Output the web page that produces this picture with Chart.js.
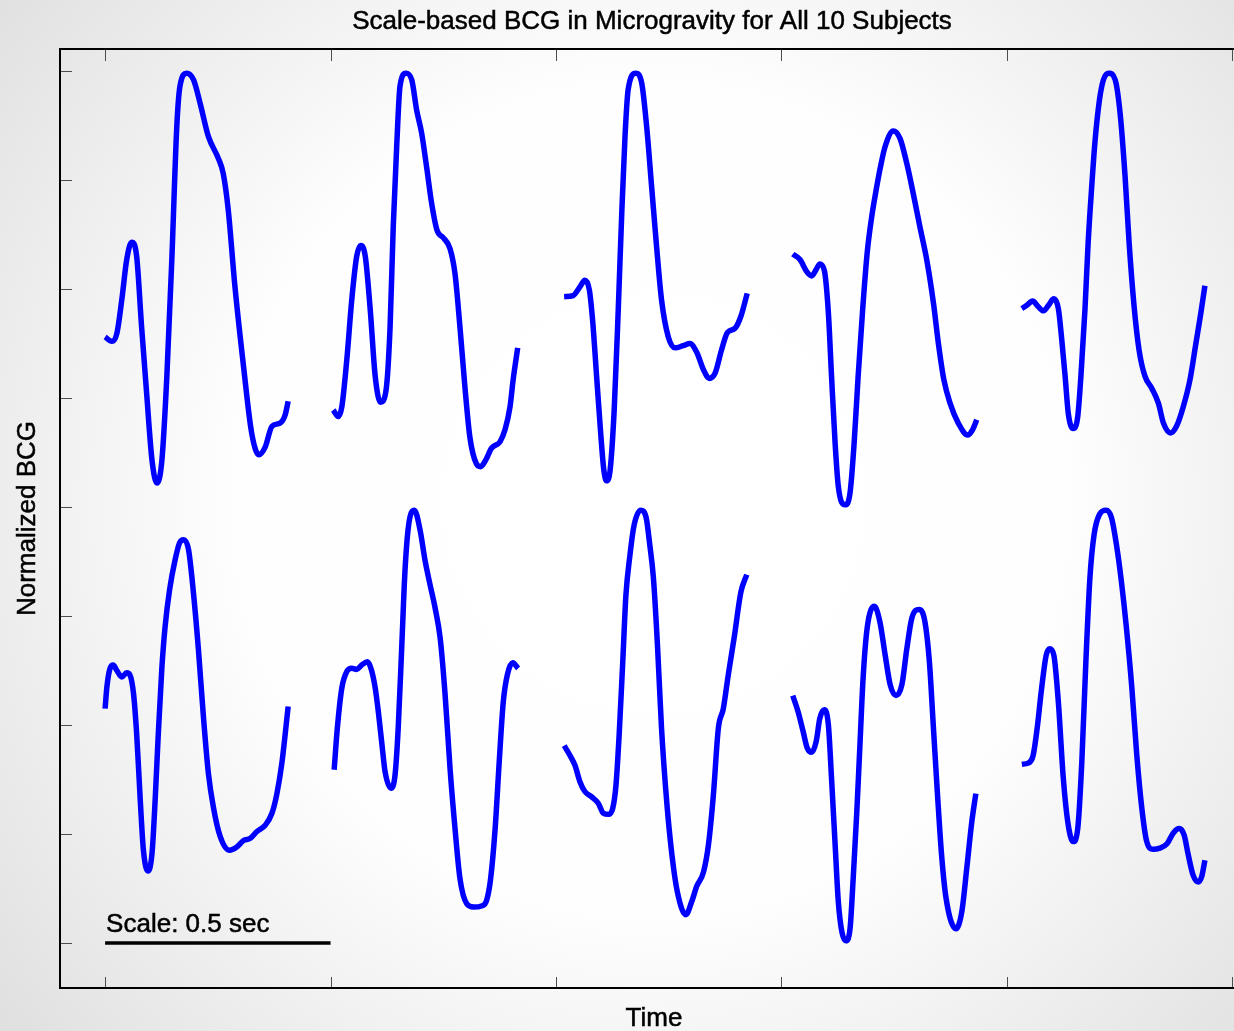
<!DOCTYPE html>
<html>
<head>
<meta charset="utf-8">
<title>Scale-based BCG in Microgravity</title>
<script src="https://cdn.jsdelivr.net/npm/chart.js@4.4.0/dist/chart.umd.min.js"></script>
<style>
html, body { margin: 0; padding: 0; background: #fff; overflow: hidden; width: 1234px; height: 1031px; }
#chart { display: block; }
</style>
</head>
<body>
<!-- the MATLAB axes box runs a little past the right edge of the picture -->
<canvas id="chart" width="1250" height="1031"></canvas>
<script>
// Time in seconds, BCG in normalized units (one y tick = 1 unit, unlabeled)

// Top row, subjects 1-5
const s1Time = [0, 0.015, 0.026, 0.037, 0.048, 0.059, 0.070, 0.081, 0.092, 0.104, 0.115, 0.126, 0.137, 0.148, 0.159, 0.166, 0.181, 0.196, 0.211, 0.229, 0.251, 0.262, 0.273, 0.288, 0.307, 0.325, 0.341, 0.355, 0.370, 0.388, 0.399, 0.406];
const s1Bcg = [5.56, 5.52, 5.59, 5.90, 6.27, 6.43, 6.30, 5.65, 5.05, 4.43, 4.22, 4.43, 5.20, 6.27, 7.49, 7.86, 7.98, 7.92, 7.70, 7.40, 7.20, 7.06, 6.73, 6.02, 5.29, 4.68, 4.48, 4.55, 4.74, 4.77, 4.84, 4.97];

const s2Time = [0.506, 0.517, 0.525, 0.536, 0.547, 0.558, 0.567, 0.577, 0.588, 0.599, 0.611, 0.623, 0.632, 0.639, 0.647, 0.654, 0.667, 0.680, 0.691, 0.702, 0.713, 0.724, 0.736, 0.750, 0.765, 0.776, 0.787, 0.798, 0.809, 0.823, 0.833, 0.844, 0.857, 0.876, 0.887, 0.898, 0.905, 0.915];
const s2Bcg = [4.89, 4.83, 4.92, 5.35, 5.90, 6.30, 6.40, 6.30, 5.81, 5.20, 4.96, 5.07, 5.65, 6.57, 7.34, 7.86, 7.98, 7.92, 7.64, 7.43, 7.12, 6.79, 6.54, 6.47, 6.37, 6.14, 5.65, 5.10, 4.64, 4.40, 4.37, 4.43, 4.54, 4.60, 4.71, 4.92, 5.17, 5.46];

const s3Time = [1.018, 1.038, 1.053, 1.064, 1.074, 1.081, 1.090, 1.099, 1.106, 1.112, 1.120, 1.129, 1.138, 1.146, 1.153, 1.160, 1.177, 1.190, 1.201, 1.212, 1.223, 1.234, 1.249, 1.264, 1.282, 1.297, 1.312, 1.327, 1.340, 1.353, 1.367, 1.380, 1.397, 1.410, 1.424];
const s3Bcg = [5.93, 5.94, 6.02, 6.08, 5.99, 5.72, 5.20, 4.68, 4.34, 4.24, 4.34, 4.89, 5.81, 6.72, 7.40, 7.83, 7.98, 7.89, 7.49, 6.94, 6.39, 5.90, 5.56, 5.46, 5.48, 5.50, 5.42, 5.26, 5.18, 5.23, 5.44, 5.60, 5.64, 5.75, 5.96];

const s4Time = [1.525, 1.541, 1.556, 1.567, 1.577, 1.585, 1.595, 1.604, 1.611, 1.619, 1.626, 1.641, 1.652, 1.661, 1.670, 1.680, 1.690, 1.700, 1.710, 1.718, 1.730, 1.748, 1.763, 1.778, 1.792, 1.807, 1.822, 1.837, 1.848, 1.860, 1.874, 1.892, 1.913, 1.924, 1.933];
const s4Bcg = [6.32, 6.27, 6.16, 6.12, 6.18, 6.23, 6.17, 5.78, 5.20, 4.58, 4.19, 4.02, 4.13, 4.58, 5.20, 5.81, 6.33, 6.66, 6.91, 7.09, 7.31, 7.45, 7.38, 7.15, 6.88, 6.57, 6.27, 5.87, 5.50, 5.17, 4.95, 4.77, 4.66, 4.71, 4.80];

const s5Time = [2.033, 2.044, 2.057, 2.069, 2.081, 2.092, 2.104, 2.114, 2.121, 2.129, 2.136, 2.147, 2.157, 2.164, 2.173, 2.180, 2.188, 2.195, 2.205, 2.214, 2.226, 2.240, 2.251, 2.262, 2.271, 2.282, 2.293, 2.306, 2.321, 2.336, 2.347, 2.363, 2.376, 2.391, 2.406, 2.419, 2.430, 2.439];
const s5Bcg = [5.82, 5.85, 5.89, 5.84, 5.80, 5.85, 5.91, 5.82, 5.56, 5.20, 4.86, 4.72, 4.83, 5.20, 5.81, 6.42, 6.94, 7.34, 7.73, 7.92, 7.98, 7.92, 7.61, 7.03, 6.42, 5.84, 5.44, 5.20, 5.09, 4.95, 4.77, 4.68, 4.74, 4.92, 5.17, 5.50, 5.78, 6.03];

// Bottom row, subjects 6-10
const s6Time = [0, 0.004, 0.011, 0.018, 0.026, 0.037, 0.048, 0.055, 0.063, 0.070, 0.078, 0.085, 0.095, 0.104, 0.111, 0.118, 0.126, 0.133, 0.143, 0.155, 0.165, 0.174, 0.185, 0.196, 0.207, 0.218, 0.229, 0.240, 0.255, 0.276, 0.292, 0.307, 0.322, 0.336, 0.355, 0.370, 0.381, 0.392, 0.406];
const s6Bcg = [2.15, 2.35, 2.52, 2.55, 2.50, 2.44, 2.48, 2.46, 2.29, 1.92, 1.31, 0.85, 0.66, 0.82, 1.31, 1.92, 2.53, 2.90, 3.24, 3.51, 3.67, 3.70, 3.61, 3.21, 2.69, 2.08, 1.56, 1.25, 0.98, 0.85, 0.88, 0.94, 0.96, 1.02, 1.08, 1.19, 1.37, 1.65, 2.17];

const s7Time = [0.508, 0.515, 0.525, 0.536, 0.547, 0.558, 0.569, 0.582, 0.591, 0.599, 0.606, 0.614, 0.621, 0.634, 0.643, 0.650, 0.658, 0.665, 0.673, 0.686, 0.698, 0.710, 0.721, 0.732, 0.743, 0.754, 0.765, 0.776, 0.787, 0.802, 0.817, 0.835, 0.846, 0.855, 0.865, 0.874, 0.883, 0.892, 0.904, 0.916];
const s7Bcg = [1.59, 1.97, 2.34, 2.49, 2.52, 2.51, 2.55, 2.58, 2.50, 2.34, 2.12, 1.82, 1.57, 1.42, 1.54, 1.97, 2.73, 3.41, 3.83, 3.97, 3.80, 3.50, 3.28, 3.07, 2.80, 2.28, 1.60, 1.05, 0.59, 0.36, 0.33, 0.34, 0.39, 0.59, 1.05, 1.66, 2.21, 2.46, 2.57, 2.52];

const s8Time = [1.018, 1.031, 1.042, 1.053, 1.064, 1.079, 1.094, 1.105, 1.116, 1.126, 1.133, 1.140, 1.148, 1.155, 1.164, 1.173, 1.188, 1.200, 1.208, 1.216, 1.225, 1.234, 1.246, 1.257, 1.269, 1.288, 1.301, 1.312, 1.327, 1.338, 1.349, 1.360, 1.371, 1.382, 1.395, 1.410, 1.423];
const s8Bcg = [1.81, 1.72, 1.63, 1.48, 1.39, 1.34, 1.28, 1.19, 1.18, 1.24, 1.45, 1.91, 2.58, 3.19, 3.56, 3.83, 3.97, 3.90, 3.65, 3.35, 2.73, 1.97, 1.27, 0.81, 0.47, 0.26, 0.38, 0.52, 0.65, 0.90, 1.36, 1.97, 2.15, 2.46, 2.80, 3.22, 3.38];

const s9Time = [1.525, 1.537, 1.548, 1.557, 1.567, 1.577, 1.585, 1.595, 1.604, 1.611, 1.619, 1.626, 1.634, 1.643, 1.652, 1.659, 1.667, 1.674, 1.681, 1.690, 1.706, 1.718, 1.730, 1.741, 1.754, 1.767, 1.778, 1.789, 1.805, 1.818, 1.828, 1.837, 1.846, 1.855, 1.865, 1.887, 1.900, 1.911, 1.922, 1.931];
const s9Bcg = [2.27, 2.12, 1.94, 1.79, 1.75, 1.85, 2.06, 2.14, 2.00, 1.51, 0.90, 0.38, 0.10, 0.02, 0.13, 0.59, 1.20, 1.82, 2.43, 2.89, 3.09, 2.95, 2.64, 2.37, 2.27, 2.37, 2.70, 2.98, 3.06, 2.95, 2.58, 1.97, 1.36, 0.81, 0.41, 0.13, 0.29, 0.69, 1.11, 1.37];

const s10Time = [2.033, 2.047, 2.058, 2.067, 2.077, 2.087, 2.095, 2.104, 2.114, 2.125, 2.136, 2.147, 2.157, 2.166, 2.175, 2.184, 2.193, 2.205, 2.220, 2.232, 2.243, 2.254, 2.265, 2.277, 2.288, 2.299, 2.310, 2.324, 2.339, 2.355, 2.369, 2.382, 2.393, 2.402, 2.413, 2.424, 2.432, 2.439];
const s10Bcg = [1.64, 1.65, 1.72, 1.97, 2.34, 2.64, 2.70, 2.64, 2.21, 1.51, 1.08, 0.93, 1.05, 1.66, 2.58, 3.35, 3.74, 3.93, 3.97, 3.90, 3.65, 3.31, 2.89, 2.34, 1.72, 1.24, 0.93, 0.86, 0.87, 0.91, 1.01, 1.05, 0.99, 0.81, 0.62, 0.56, 0.61, 0.76];

// Scale bar: 0.5 sec
const scaleBarTime = [0, 0.5];
const scaleBarBcg = [0, 0];

// Unlabeled ticks
const xTicks = [0, 0.5, 1, 1.5, 2, 2.5];
const yTicks = [0, 1, 2, 3, 4, 5, 6, 7, 8];

// -----------------------------------------------------------------------

const subjects = [
    [s1Time, s1Bcg], [s2Time, s2Bcg], [s3Time, s3Bcg], [s4Time, s4Bcg], [s5Time, s5Bcg],
    [s6Time, s6Bcg], [s7Time, s7Bcg], [s8Time, s8Bcg], [s9Time, s9Bcg], [s10Time, s10Bcg]
];

const toPoints = (xs, ys) => xs.map((x, i) => ({ x, y: ys[i] }));

const datasets = subjects.map(([t, v], i) => ({
    label: `Subject ${i + 1}`,
    data: toPoints(t, v),
    borderColor: "#0000ff",
    borderWidth: 5.5,
    borderCapStyle: "butt",
    borderJoinStyle: "round",
    cubicInterpolationMode: "monotone",
    pointRadius: 0,
    fill: false
}));

datasets.push({
    label: "Scale bar",
    data: toPoints(scaleBarTime, scaleBarBcg),
    borderColor: "#000000",
    borderWidth: 3.5,
    borderCapStyle: "butt",
    pointRadius: 0,
    fill: false
});

const FONT = "26px 'Liberation Sans', Arial, Helvetica, sans-serif";

// draws text a touch heavier, like the MATLAB export
function heavyText(ctx, str, x, y) {
    ctx.fillText(str, x, y);
    ctx.strokeText(str, x, y);
}

const matlabFrame = {
    id: "matlabFrame",
    beforeDraw(chart) {
        const { ctx, width, height } = chart;
        const grad = ctx.createRadialGradient(650, 500, 0, 650, 500, 830);
        grad.addColorStop(0, "#ffffff");
        grad.addColorStop(0.5, "#fefefe");
        grad.addColorStop(1, "#e0e0e0");
        ctx.save();
        ctx.fillStyle = grad;
        ctx.fillRect(0, 0, width, height);
        ctx.restore();
    },
    afterDraw(chart) {
        const { ctx, chartArea: area } = chart;
        const xs = chart.scales.x;
        const ys = chart.scales.y;
        ctx.save();

        // inward ticks
        ctx.strokeStyle = "#4d4d4d";
        ctx.lineWidth = 1;
        for (const v of yTicks) {
            const py = Math.round(ys.getPixelForValue(v)) + 0.5;
            ctx.beginPath();
            ctx.moveTo(area.left, py);
            ctx.lineTo(area.left + 12, py);
            ctx.stroke();
        }
        for (const t of xTicks) {
            const px = Math.round(xs.getPixelForValue(t)) + 0.5;
            ctx.beginPath();
            ctx.moveTo(px, area.bottom);
            ctx.lineTo(px, area.bottom - 11);
            ctx.stroke();
            ctx.beginPath();
            ctx.moveTo(px, area.top);
            ctx.lineTo(px, area.top + 12);
            ctx.stroke();
        }

        // axis lines: left, top, bottom
        ctx.strokeStyle = "#000000";
        ctx.lineWidth = 2;
        ctx.beginPath();
        ctx.moveTo(area.left, area.top);
        ctx.lineTo(area.right, area.top);
        ctx.stroke();
        ctx.beginPath();
        ctx.moveTo(area.left, area.bottom);
        ctx.lineTo(area.right, area.bottom);
        ctx.stroke();
        ctx.beginPath();
        ctx.moveTo(area.left, area.top - 1);
        ctx.lineTo(area.left, area.bottom + 1);
        ctx.stroke();

        // texts
        const midX = (area.left + area.right) / 2;
        ctx.fillStyle = "#000000";
        ctx.strokeStyle = "#000000";
        ctx.lineWidth = 0.5;
        ctx.font = FONT;
        ctx.textBaseline = "alphabetic";
        ctx.textAlign = "center";
        heavyText(ctx, "Scale-based BCG in Microgravity for All 10 Subjects", midX - 3, 28.5);
        heavyText(ctx, "Time", midX - 1, 1026);

        ctx.save();
        ctx.translate(35, (area.top + area.bottom) / 2);
        ctx.rotate(-Math.PI / 2);
        heavyText(ctx, "Normalized BCG", 0, 0);
        ctx.restore();

        ctx.textAlign = "left";
        heavyText(ctx, "Scale: 0.5 sec", xs.getPixelForValue(scaleBarTime[0]) + 1, ys.getPixelForValue(scaleBarBcg[0]) - 11);

        ctx.restore();
    }
};

const ctx = document.querySelector("#chart").getContext("2d");

new Chart(ctx, {
    type: "line",
    data: { datasets },
    options: {
        responsive: false,
        animation: false,
        devicePixelRatio: 1,
        layout: { padding: { left: 60, top: 49, right: 0, bottom: 43 } },
        scales: {
            x: { type: "linear", min: -0.1, max: 2.539, display: false },
            y: { type: "linear", min: -0.413, max: 8.202, display: false }
        },
        plugins: {
            legend: { display: false },
            tooltip: { enabled: false },
            title: { display: false }
        }
    },
    plugins: [matlabFrame]
});
</script>
</body>
</html>
